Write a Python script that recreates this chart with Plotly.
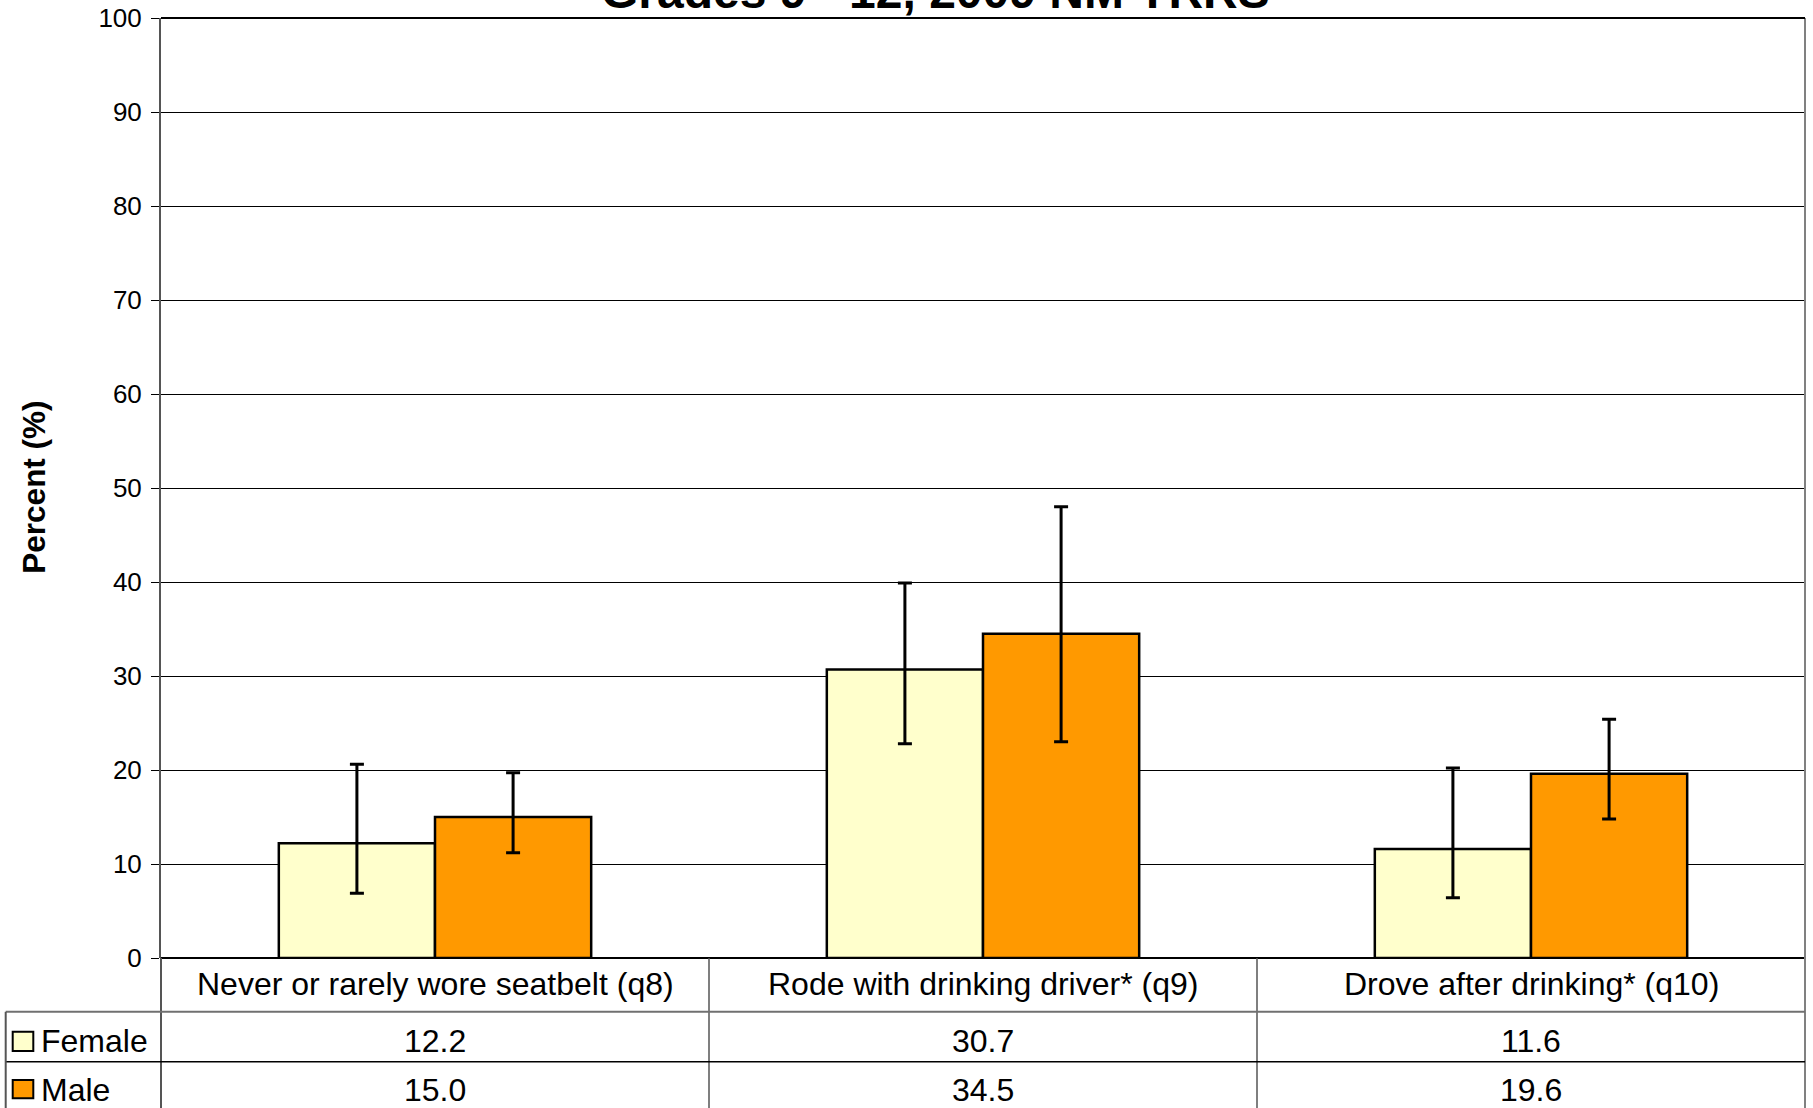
import plotly.graph_objects as go

# ---- data ----
categories = ["Never or rarely wore seatbelt (q8)",
              "Rode with drinking driver* (q9)",
              "Drove after drinking* (q10)"]
series_names = ["Female", "Male"]
female = [12.2, 30.7, 11.6]
male = [15.0, 34.5, 19.6]
female_upper = [20.6, 39.9, 20.2]
female_lower = [6.9, 22.8, 6.4]
male_upper = [19.7, 48.0, 25.4]
male_lower = [11.2, 23.0, 14.8]
y_ticks = [0, 10, 20, 30, 40, 50, 60, 70, 80, 90, 100]
title_text = "Grades 9 - 12, 2009 NM YRRS"
y_title = "Percent (%)"

# ---- styles ----
FONT = "Liberation Sans, Arial, sans-serif"
colors = {"Female": "#FFFFCC", "Male": "#FF9900"}
W, H = 1813, 1108
L, R, T, B = 161, 8, 18, 150
plot_h = H - T - B

def py(px_from_top):
    """convert pixel y (from page top) to paper coordinate"""
    return (H - B - px_from_top) / plot_h

def px_x(px):
    return (px - L) / (W - L - R)

fig = go.Figure()
for name, vals, up, lo in [("Female", female, female_upper, female_lower),
                           ("Male", male, male_upper, male_lower)]:
    fig.add_trace(go.Bar(
        x=categories, y=vals, name=name,
        marker=dict(color=colors[name], line=dict(color="black", width=2.5)),
        error_y=dict(type="data", symmetric=False,
                     array=[u - v for u, v in zip(up, vals)],
                     arrayminus=[v - l for l, v in zip(lo, vals)],
                     color="black", thickness=3, width=7),
        showlegend=False,
    ))

fig.update_layout(
    width=W, height=H,
    margin=dict(l=L, r=R, t=T, b=B, pad=0, autoexpand=False),
    paper_bgcolor="white", plot_bgcolor="white",
    barmode="group", bargap=0.43, bargroupgap=0,
    font=dict(family=FONT, color="black"),
    xaxis=dict(showticklabels=False, ticks="", showgrid=False, automargin=False,
               showline=False, zeroline=False, range=[-0.5, 2.5]),
    yaxis=dict(range=[0, 100], tickvals=y_ticks, ticks="outside", ticklen=8,
               tickcolor="black", tickwidth=1, automargin=False,
               tickfont=dict(size=26, family=FONT, color="black"),
               showgrid=True, gridcolor="black", gridwidth=1,
               zeroline=True, zerolinecolor="black", zerolinewidth=1.5,
               showline=True, linecolor="#555555", linewidth=2,
               ticklabelstandoff=4),
)

shapes = []
# right frame border (down through table)
shapes.append(dict(type="line", xref="paper", yref="paper", x0=1, x1=1,
                   y0=1, y1=py(H + 2), line=dict(color="#808080", width=2)))
# left axis line continued into table
shapes.append(dict(type="line", xref="paper", yref="paper", x0=0, x1=0,
                   y0=0, y1=py(H + 2), line=dict(color="#555555", width=2)))
# top border
shapes.append(dict(type="line", xref="paper", yref="paper", x0=0, x1=1,
                   y0=1, y1=1, line=dict(color="black", width=2)))
# category separators in table
for i in range(len(categories) - 1):
    shapes.append(dict(type="line", xref="x", yref="paper", x0=i + 0.5, x1=i + 0.5,
                       y0=0, y1=py(H + 2), line=dict(color="#555555", width=1.5)))
# row lines
row1, row2 = 1011.8, 1061.7
shapes.append(dict(type="line", xref="paper", yref="paper", x0=px_x(5.7), x1=1,
                   y0=py(row1), y1=py(row1), line=dict(color="#707070", width=2)))
shapes.append(dict(type="line", xref="paper", yref="paper", x0=px_x(5.7), x1=1,
                   y0=py(row2), y1=py(row2), line=dict(color="black", width=1.5)))
# legend column left border
shapes.append(dict(type="line", xref="paper", yref="paper", x0=px_x(5.7), x1=px_x(5.7),
                   y0=py(row1), y1=py(H + 2), line=dict(color="#555555", width=2)))
# legend keys
for name, (ya, yb) in zip(series_names, [(1031.7, 1051.0), (1080.0, 1098.3)]):
    shapes.append(dict(type="rect", xref="paper", yref="paper",
                       x0=px_x(12.7), x1=px_x(33.3), y0=py(ya), y1=py(yb),
                       fillcolor=colors[name], line=dict(color="black", width=2)))

annotations = []
# title (partly cut at the top, as in the reference)
annotations.append(dict(text=f"<b>{title_text}</b>", xref="paper", yref="paper",
                        x=px_x(935), y=py(-9), xanchor="center", yanchor="middle",
                        showarrow=False, font=dict(size=48, family=FONT, color="black")))
# y axis title
annotations.append(dict(text=f"<b>{y_title}</b>", xref="paper", yref="paper",
                        x=px_x(34), y=py(487.7), xanchor="center", yanchor="middle",
                        textangle=-90, showarrow=False,
                        font=dict(size=31.5, family=FONT, color="black")))
# table texts
TF = dict(size=32, family=FONT, color="black")
for c in categories:
    annotations.append(dict(text=c, x=c, xref="x", yref="paper", y=py(984.2),
                            xanchor="center", yanchor="middle", showarrow=False, font=TF))
for name, vals, yc in [("Female", female, 1041.0), ("Male", male, 1089.8)]:
    annotations.append(dict(text=name, xref="paper", yref="paper", x=px_x(39),
                            y=py(yc), xanchor="left", yanchor="middle",
                            showarrow=False, font=TF))
    for c, v in zip(categories, vals):
        annotations.append(dict(text=f"{v:.1f}", x=c, xref="x", yref="paper",
                                y=py(yc), xanchor="center", yanchor="middle",
                                showarrow=False, font=TF))

fig.update_layout(shapes=shapes, annotations=annotations)

fig.write_html("out.html", config={"displayModeBar": False},
               post_script="document.body.style.margin='0';")
